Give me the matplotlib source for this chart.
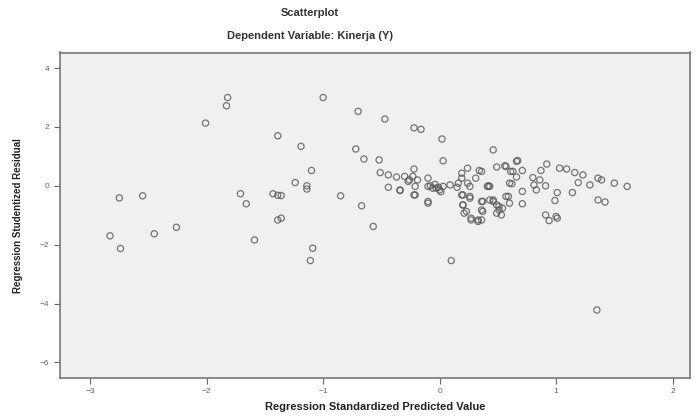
import matplotlib
matplotlib.use('Agg')
import matplotlib.pyplot as plt

# standardized predicted value vs studentized residual
pred = [
    -1.82, -1.83, -2.01, -1.39, -2.75, -2.55, -1.71, -1.66, -1.43, -1.39,
    -2.83, -2.74, -2.45, -2.26, -1.39, -1.59,
    -1.00, -0.70, -0.47, -0.22, -0.16, 0.02, -1.19, -0.72, -0.65, -0.52,
    0.03, -1.10, -0.51, -0.44, -0.37, -0.22, -0.26, -1.24, -1.14, -1.14,
    -1.36, -0.85, -0.44, -0.34, -0.22, -0.10, -0.67, -1.36,
    -1.09, -1.11, -0.57, 0.10, 0.21, 0.27, 0.33, 0.37, 0.37, 0.20, 0.26, 0.19,
    0.46, 0.67, 0.92, 0.49, 0.56, 0.71, 0.61, 0.34, 1.03, 1.09, 1.16, 1.23,
    0.87, 0.86, 0.80, 0.66, 1.36, 1.39, 1.50, 1.61, 1.19, 1.29, 0.42, 0.62,
    0.81, 0.83, 0.91, 0.71, 1.01, 0.99, 1.14, 0.59, 0.71, 1.36, 1.42,
    0.46, 0.49, 0.54, 0.53, 0.91, 1.00, 0.94, 1.01, 1.35, 0.36,
    -0.30, -0.23, -0.27, -0.19, -0.10, -0.34, -0.21, -0.21, -0.10, -0.06,
    -0.03, 0.00, 0.03, 0.09, 0.16, 0.19, 0.24, 0.31, 0.26, -0.10, 0.20,
    0.26, 0.20, 0.23, 0.27, 0.33, 0.36, 0.43, 0.46, 0.51, 0.57, 0.60, 0.43,
    0.36, 0.51, 0.60, 0.49, 0.24, 0.19, 0.36, 0.57, 0.63, 0.66,
    -0.08, -0.04, -0.01, 0.01, 0.15, 0.41,
]
resid = [
    3.00, 2.72, 2.13, 1.70, -0.41, -0.34, -0.27, -0.61, -0.27, -0.32,
    -1.70, -2.13, -1.63, -1.41, -1.16, -1.84,
    3.00, 2.53, 2.27, 1.97, 1.92, 1.59, 1.34, 1.25, 0.91, 0.88,
    0.85, 0.52, 0.45, 0.37, 0.30, 0.57, 0.20, 0.11, 0.00, -0.11,
    -0.33, -0.34, -0.05, -0.16, -0.31, -0.59, -0.68, -1.10,
    -2.12, -2.54, -1.38, -2.54, -0.93, -1.16, -1.21, -0.87, -0.53, -0.65, -0.36, -0.31,
    1.22, 0.86, 0.74, 0.64, 0.68, 0.52, 0.49, 0.52, 0.60, 0.57, 0.45, 0.37,
    0.52, 0.20, 0.28, 0.30, 0.26, 0.20, 0.09, -0.02, 0.11, 0.03, 0.00, 0.07,
    0.03, -0.14, 0.00, -0.19, -0.23, -0.50, -0.23, -0.36, -0.61, -0.48, -0.55,
    -0.48, -0.65, -0.76, -0.99, -0.99, -1.04, -1.18, -1.10, -4.22, -1.16,
    0.32, 0.32, 0.15, 0.20, 0.26, -0.14, -0.02, -0.31, -0.02, -0.08,
    -0.08, -0.14, -0.02, 0.03, 0.09, 0.26, 0.09, 0.26, -0.02, -0.53, -0.31,
    -0.42, -0.65, -0.87, -1.10, -1.16, -0.53, -0.48, -0.53, -0.70, -0.36, 0.09, -0.02,
    -0.82, -0.82, -0.59, -0.93, 0.60, 0.43, 0.49, 0.66, 0.49, 0.83,
    0.00, 0.05, -0.05, -0.20, -0.05, -0.02,
]

xticks = [-3, -2, -1, 0, 1, 2]
yticks = [-6, -4, -2, 0, 2, 4]

plt.rcParams['font.family'] = ['Liberation Sans', 'DejaVu Sans']

fig = plt.figure(figsize=(6.97, 4.2), dpi=100)
ax = fig.add_axes([0.086, 0.10, 0.904, 0.775])
ax.set_facecolor('#f0f0f0')

ax.scatter(pred, resid, s=20, facecolors='none', edgecolors='#555555',
           linewidths=0.9, alpha=0.8)

ax.set_xlim(-3.26, 2.15)
ax.set_ylim(-6.53, 4.53)
ax.set_xticks(xticks)
ax.set_yticks(yticks)
ax.tick_params(labelsize=6, colors='#666666', length=4, width=0.8)
for sp in ax.spines.values():
    sp.set_color('#777777')
    sp.set_linewidth(1.2)

ax.set_xlabel('Regression Standardized Predicted Value', fontsize=8,
              fontweight='bold', color='#222222', labelpad=5)
ax.set_ylabel('Regression Studentized Residual', fontsize=7,
              fontweight='bold', color='#222222', labelpad=12)

fig.text(0.445, 0.968, 'Scatterplot', ha='center', va='center',
         fontsize=8, fontweight='bold', color='#333333')
fig.text(0.445, 0.915, 'Dependent Variable: Kinerja (Y)', ha='center',
         va='center', fontsize=8, fontweight='bold', color='#333333')

fig.savefig('out.png', dpi=100, facecolor='white')
